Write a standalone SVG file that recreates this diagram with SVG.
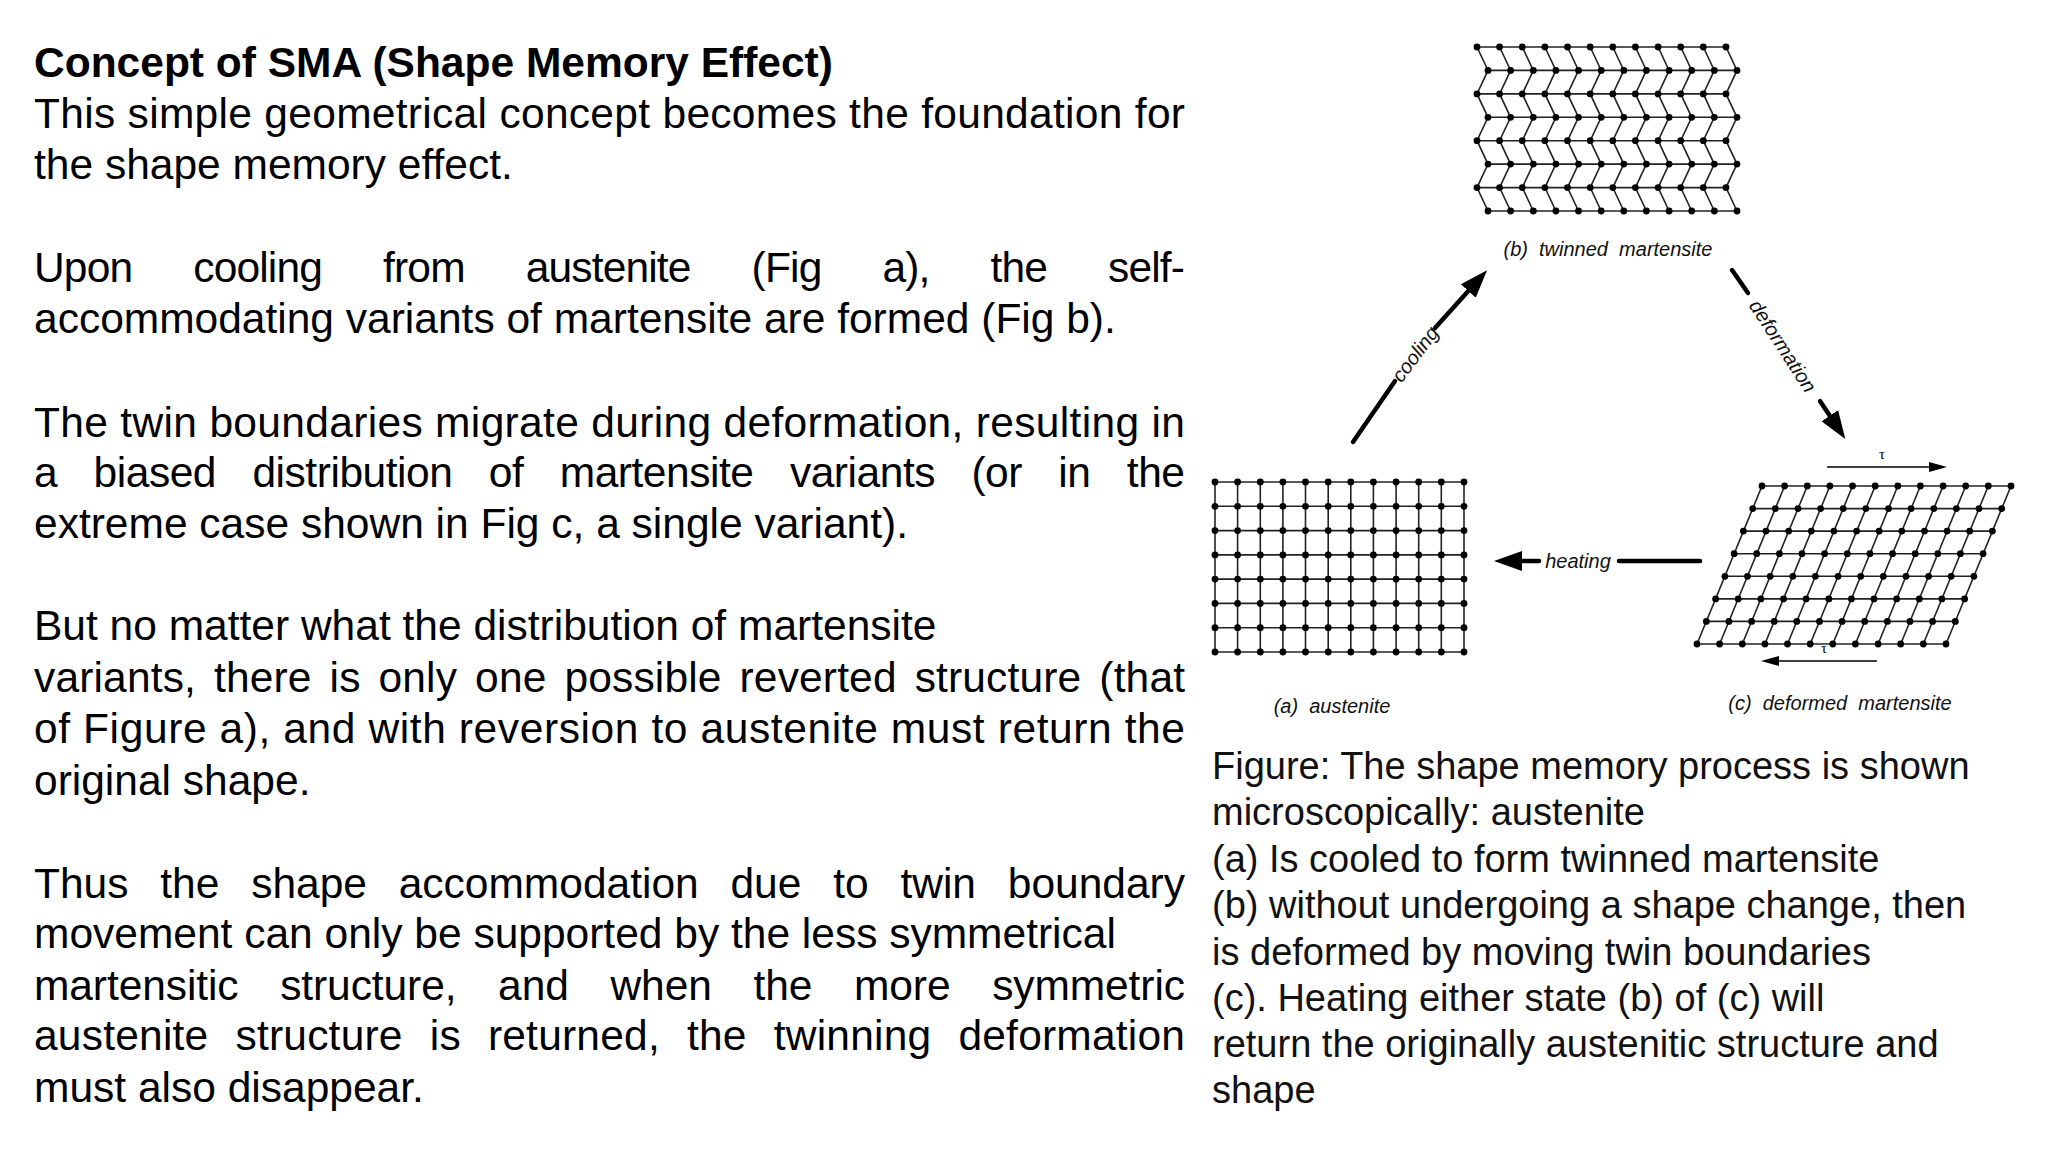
<svg xmlns="http://www.w3.org/2000/svg" width="2048" height="1152" viewBox="0 0 2048 1152">
<style>
.t{font-family:"Liberation Sans",Arial,sans-serif;font-size:42.5px;fill:#000}
.b{font-weight:bold}
.c{font-family:"Liberation Sans",Arial,sans-serif;font-size:38px;fill:#111}
.l{font-family:"Liberation Sans",Arial,sans-serif;font-size:20px;font-style:italic;fill:#111}
.g{fill:none;stroke:#222;stroke-width:1.6}
.d{marker-start:url(#dot);marker-mid:url(#dot);marker-end:url(#dot)}
.a{fill:none;stroke:#000;stroke-width:4.5;stroke-linecap:round}
.th{fill:none;stroke:#000;stroke-width:1.5}
</style>
<defs>
<marker id="dot" markerUnits="userSpaceOnUse" markerWidth="9" markerHeight="9" refX="4.5" refY="4.5"><circle cx="4.5" cy="4.5" r="3.4" fill="#000"/></marker>
<marker id="ah" markerUnits="userSpaceOnUse" markerWidth="30" markerHeight="24" refX="4" refY="12" orient="auto"><path d="M0,2 L28,12 L0,22 Z" fill="#000"/></marker>
<marker id="sh" markerUnits="userSpaceOnUse" markerWidth="20" markerHeight="12" refX="2" refY="6" orient="auto"><path d="M0,1 L18,6 L0,11 Z" fill="#000"/></marker>
<polyline id="row" class="g d" points="0,0 22.6,0 45.3,0 67.9,0 90.5,0 113.2,0 135.8,0 158.4,0 181.1,0 203.7,0 226.3,0 249,0"/>
<polyline id="col" class="g" points="0,0 0,170"/>
<polyline id="scol" class="g" points="65,0 0,158"/>
<polyline id="zcol" class="g" points="0,0 11,23.4 0,46.9 11,70.3 0,93.7 11,117.1 0,140.6 11,164"/>
</defs>

<g id="text-left">
<text class="t b" x="34" y="77">Concept of SMA (Shape Memory Effect)</text>
<text class="t" x="34" y="127.5" textLength="1151" lengthAdjust="spacing">This simple geometrical concept becomes the foundation for</text>
<text class="t" x="34" y="179">the shape memory effect.</text>
<text class="t" x="34" y="282" textLength="1151" lengthAdjust="spacing" word-spacing="50">Upon cooling from austenite (Fig a), the self-</text>
<text class="t" x="34" y="332.5">accommodating variants of martensite are formed (Fig b).</text>
<text class="t" x="34" y="436.5" textLength="1151" lengthAdjust="spacing">The twin boundaries migrate during deformation, resulting in</text>
<text class="t" x="34" y="487" textLength="1151" lengthAdjust="spacing" word-spacing="25">a biased distribution of martensite variants (or in the</text>
<text class="t" x="34" y="538">extreme case shown in Fig c, a single variant).</text>
<text class="t" x="34" y="640">But no matter what the distribution of martensite</text>
<text class="t" x="34" y="692" textLength="1151" lengthAdjust="spacing" word-spacing="6">variants, there is only one possible reverted structure (that</text>
<text class="t" x="34" y="743" textLength="1151" lengthAdjust="spacing">of Figure a), and with reversion to austenite must return the</text>
<text class="t" x="34" y="795">original shape.</text>
<text class="t" x="34" y="898" textLength="1151" lengthAdjust="spacing" word-spacing="20">Thus the shape accommodation due to twin boundary</text>
<text class="t" x="34" y="948">movement can only be supported by the less symmetrical</text>
<text class="t" x="34" y="999.5" textLength="1151" lengthAdjust="spacing" word-spacing="30">martensitic structure, and when the more symmetric</text>
<text class="t" x="34" y="1050" textLength="1151" lengthAdjust="spacing" word-spacing="15">austenite structure is returned, the twinning deformation</text>
<text class="t" x="34" y="1102">must also disappear.</text>
</g>

<g id="node-b" transform="translate(-13,0)">
<use href="#zcol" x="1490" y="47"/><use href="#zcol" x="1512.6" y="47"/><use href="#zcol" x="1535.3" y="47"/><use href="#zcol" x="1557.9" y="47"/><use href="#zcol" x="1580.5" y="47"/><use href="#zcol" x="1603.2" y="47"/><use href="#zcol" x="1625.8" y="47"/><use href="#zcol" x="1648.4" y="47"/><use href="#zcol" x="1671.1" y="47"/><use href="#zcol" x="1693.7" y="47"/><use href="#zcol" x="1716.3" y="47"/><use href="#zcol" x="1739" y="47"/>
<use href="#row" x="1490" y="47"/><use href="#row" x="1501" y="70.4"/><use href="#row" x="1490" y="93.9"/><use href="#row" x="1501" y="117.3"/><use href="#row" x="1490" y="140.7"/><use href="#row" x="1501" y="164.1"/><use href="#row" x="1490" y="187.6"/><use href="#row" x="1501" y="211"/>
<text class="l" x="1621" y="256" text-anchor="middle" xml:space="preserve">(b)  twinned  martensite</text>
</g>

<g id="node-a" transform="translate(-13,0)">
<use href="#col" x="1228" y="482"/><use href="#col" x="1250.6" y="482"/><use href="#col" x="1273.3" y="482"/><use href="#col" x="1295.9" y="482"/><use href="#col" x="1318.5" y="482"/><use href="#col" x="1341.2" y="482"/><use href="#col" x="1363.8" y="482"/><use href="#col" x="1386.4" y="482"/><use href="#col" x="1409.1" y="482"/><use href="#col" x="1431.7" y="482"/><use href="#col" x="1454.3" y="482"/><use href="#col" x="1477" y="482"/>
<use href="#row" x="1228" y="482"/><use href="#row" x="1228" y="506.3"/><use href="#row" x="1228" y="530.6"/><use href="#row" x="1228" y="554.9"/><use href="#row" x="1228" y="579.1"/><use href="#row" x="1228" y="603.4"/><use href="#row" x="1228" y="627.7"/><use href="#row" x="1228" y="652"/>
<text class="l" x="1345" y="713" text-anchor="middle" xml:space="preserve">(a)  austenite</text>
</g>

<g id="node-c" transform="translate(-13,0)">
<use href="#scol" x="1710" y="486"/><use href="#scol" x="1732.6" y="486"/><use href="#scol" x="1755.3" y="486"/><use href="#scol" x="1777.9" y="486"/><use href="#scol" x="1800.5" y="486"/><use href="#scol" x="1823.2" y="486"/><use href="#scol" x="1845.8" y="486"/><use href="#scol" x="1868.4" y="486"/><use href="#scol" x="1891.1" y="486"/><use href="#scol" x="1913.7" y="486"/><use href="#scol" x="1936.3" y="486"/><use href="#scol" x="1959" y="486"/>
<use href="#row" x="1775" y="486"/><use href="#row" x="1765.7" y="508.6"/><use href="#row" x="1756.4" y="531.1"/><use href="#row" x="1747.1" y="553.7"/><use href="#row" x="1737.9" y="576.3"/><use href="#row" x="1728.6" y="598.9"/><use href="#row" x="1719.3" y="621.4"/><use href="#row" x="1710" y="644"/>
<line class="th" x1="1840" y1="467" x2="1944" y2="467" marker-end="url(#sh)"/>
<text x="1895" y="459" font-family="Liberation Serif,serif" font-size="15" text-anchor="middle">τ</text>
<line class="th" x1="1890" y1="661" x2="1790" y2="661" marker-end="url(#sh)"/>
<text x="1837" y="653" font-family="Liberation Serif,serif" font-size="15" text-anchor="middle">τ</text>
<text class="l" x="1853" y="710" text-anchor="middle" xml:space="preserve">(c)  deformed  martensite</text>
</g>

<g id="connectors" transform="translate(-13,0)">
<line class="a" x1="1366" y1="442" x2="1408" y2="381"/>
<line class="a" x1="1448" y1="328" x2="1484" y2="288" marker-end="url(#ah)"/>
<text class="l" x="0" y="7" text-anchor="middle" transform="translate(1428,354) rotate(-53)">cooling</text>
<line class="a" x1="1745" y1="270" x2="1761" y2="293"/>
<line class="a" x1="1833" y1="401" x2="1845" y2="419" marker-end="url(#ah)"/>
<text class="l" x="0" y="7" text-anchor="middle" transform="translate(1796,346) rotate(57)">deformation</text>
<line class="a" x1="1713" y1="561" x2="1632" y2="561"/>
<line class="a" x1="1552" y1="561" x2="1531" y2="561" marker-end="url(#ah)"/>
<text class="l" x="1591" y="568" text-anchor="middle">heating</text>
</g>

<g id="caption">
<text class="c" x="1212" y="779">Figure: The shape memory process is shown</text>
<text class="c" x="1212" y="825">microscopically: austenite</text>
<text class="c" x="1212" y="872">(a) Is cooled to form twinned martensite</text>
<text class="c" x="1212" y="918">(b) without undergoing a shape change, then</text>
<text class="c" x="1212" y="965">is deformed by moving twin boundaries</text>
<text class="c" x="1212" y="1011">(c). Heating either state (b) of (c) will</text>
<text class="c" x="1212" y="1057">return the originally austenitic structure and</text>
<text class="c" x="1212" y="1103">shape</text>
</g>
</svg>
